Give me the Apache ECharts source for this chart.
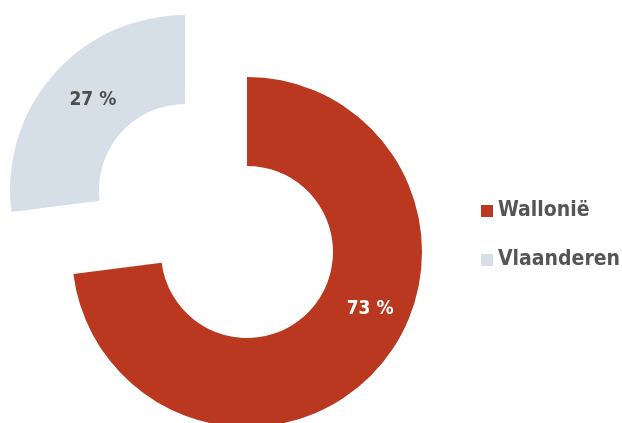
<!DOCTYPE html>
<html>
<head>
<meta charset="utf-8">
<script src="https://cdn.jsdelivr.net/npm/echarts@6/dist/echarts.min.js"></script>
<style>
  html, body { margin: 0; padding: 0; background: #fff; }
  #chart { width: 622px; height: 423px; }
</style>
</head>
<body>
<div id="chart"></div>
<script>
// gegevens
var regions = ['Wallonië', 'Vlaanderen'];
var shares = [73, 27];
var colors = ['#b9381f', '#d6dee7'];

var chart = echarts.init(document.getElementById('chart'));
var font = "'DejaVu Sans Condensed', 'Liberation Sans Narrow', sans-serif";

// elk stuk krijgt een eigen reeks, zodat Vlaanderen los kan staan
function buildData(visibleIndex) {
   return regions.map(function (name, i) {
      var item = { name: name, value: shares[i] };
      if (i !== visibleIndex) {
         item.itemStyle = { color: 'rgba(0,0,0,0)' };
         item.label = { show: false };
      } else {
         item.itemStyle = { color: colors[i] };
      }
      return item;
   });
}

var labelShift = [[23, -31], [8, -2]];

var option = {
   animation: false,
   legend: {
      orient: 'vertical',
      left: 476,
      top: 192,
      itemWidth: 12,
      itemHeight: 12,
      itemGap: 21,
      icon: 'rect',
      data: regions.map(function (name, i) {
         return { name: name, itemStyle: { color: colors[i] } };
      }),
      textStyle: {
         fontFamily: font,
         fontWeight: 'bold',
         fontSize: 21,
         lineHeight: 28,
         color: '#555555'
      }
   },
   series: [0, 1].map(function (k) {
      return {
         type: 'pie',
         center: k === 0 ? [247, 252] : [185, 190],
         radius: [86, 175],
         startAngle: 90,
         clockwise: true,
         emphasis: { disabled: true },
         label: {
            position: 'inside',
            formatter: '{c} %',
            fontFamily: font,
            fontWeight: 'bold',
            fontSize: 19,
            color: k === 0 ? '#ffffff' : '#4d4d4d'
         },
         labelLine: { show: false },
         labelLayout: { dx: labelShift[k][0], dy: labelShift[k][1] },
         data: buildData(k)
      };
   })
};

chart.setOption(option);
</script>
</body>
</html>
